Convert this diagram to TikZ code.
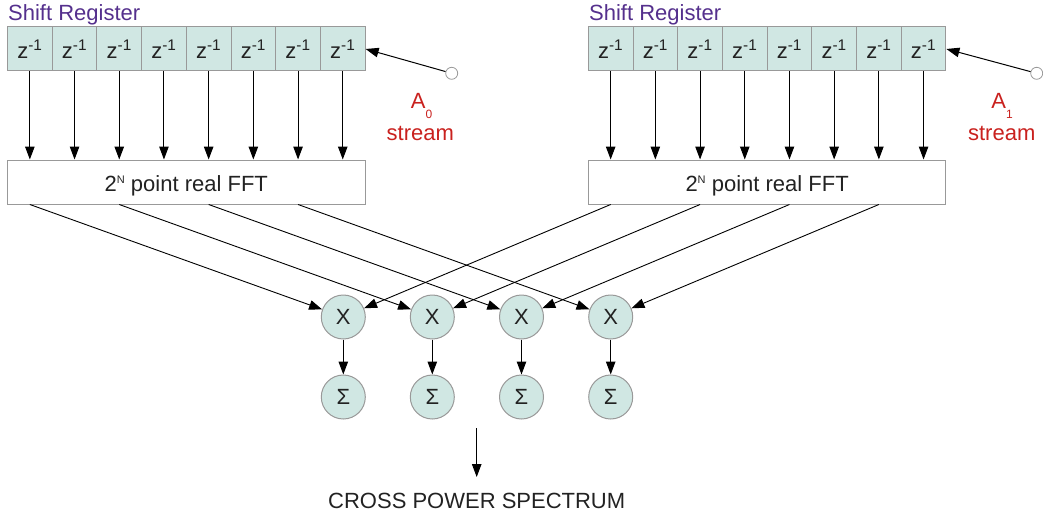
\documentclass[tikz,border=0pt]{standalone}
\usepackage{fontspec}
\setmainfont{Liberation Sans}
\usetikzlibrary{arrows.meta}
\definecolor{cellfill}{HTML}{D0E7E3}
\definecolor{edgegray}{HTML}{999999}
\definecolor{regpurple}{HTML}{55308D}
\definecolor{streamred}{HTML}{C9211E}
\definecolor{txt}{HTML}{222222}
\newcommand{\smallsup}[1]{\raisebox{7.8pt}{\fontsize{11}{11}\selectfont #1}}
\newcommand{\smallsub}[1]{\raisebox{-10pt}{\fontsize{12}{12}\selectfont #1}}
\begin{document}
\begin{tikzpicture}[x=1pt,y=-1pt,
  every node/.style={font=\fontsize{22}{26}\selectfont, text=txt},
  cell/.style={draw=edgegray, fill=cellfill, line width=1pt, minimum width=44.7pt, minimum height=44pt, inner sep=0pt},
  fftbox/.style={draw=edgegray, fill=white, line width=1pt, minimum width=357.6pt, minimum height=44pt, inner sep=0pt},
  op/.style={circle, draw=edgegray, fill=cellfill, line width=1pt, minimum size=44pt, inner sep=0pt},
  port/.style={circle, draw=edgegray, fill=white, line width=0.8pt, minimum size=12pt, inner sep=0pt},
  arr/.style={draw=black, line width=1pt, -{Triangle[length=13pt,width=9.5pt]}},
  conn/.style={draw=black, line width=0.9pt, -{Triangle[length=13pt,width=9.5pt]}},
  title/.style={text=regpurple, anchor=base west, inner sep=0pt},
  stream/.style={text=streamred, anchor=base, inner sep=0pt},
  lbl/.style={anchor=base, inner sep=0pt},
]
\useasboundingbox (0,0) rectangle (1043,516);

% titles
\node[title] (srL) at (8,20.7) {Shift Register};
\node[title] (srR) at (589,20.7) {Shift Register};

% shift register cells
\foreach \i in {1,...,8} {
  \node[cell] (L\i) at ({7.5+44.7*(\i-0.5)},49) {z\textsuperscript{-1}};
  \node[cell] (R\i) at ({588.3+44.7*(\i-0.5)},49) {z\textsuperscript{-1}};
}

% FFT boxes
\node[fftbox] (fftL) at (186.3,182) {};
\node[fftbox] (fftR) at (767.1,182) {};
\node[lbl] (fftLt) at (186.3,191.7) {2\smallsup{N} point real FFT};
\node[lbl] (fftRt) at (767.1,191.7) {2\smallsup{N} point real FFT};

% cell -> FFT arrows
\foreach \i in {1,...,8} {
  \draw[arr] (L\i.south) -- (L\i.south |- fftL.north);
  \draw[arr] (R\i.south) -- (R\i.south |- fftR.north);
}

% input ports and streams
\node[port] (inL) at (451.7,73.3) {};
\node[port] (inR) at (1036.7,73.3) {};
\draw[arr] (inL) -- (L8.east);
\draw[arr] (inR) -- (R8.east);
\node[stream] (a0) at (421.5,108.3) {A\smallsub{0}};
\node[stream] (st0) at (420.3,140) {stream};
\node[stream] (a1) at (1002,108.3) {A\smallsub{1}};
\node[stream] (st1) at (1001.7,140) {stream};

% multipliers and accumulators
\foreach \i/\x in {1/343.3,2/432.3,3/521.5,4/610.7} {
  \node[op] (m\i) at (\x,317) {X};
  \node[op] (s\i) at (\x,397) {Σ};
  \draw[arr] (m\i) -- (s\i);
}

% FFT outputs -> multipliers
\foreach \c/\m in {1/1,3/2,5/3,7/4} {
  \draw[conn] (L\c.south |- fftL.south) -- (m\m);
  \draw[conn] (R\c.south |- fftR.south) -- (m\m);
}

% output
\coordinate (outS) at (476.7,428.3);
\coordinate (outE) at (476.7,477);
\draw[arr] (outS) -- (outE);
\node[lbl] (cps) at (476.7,508.3) {CROSS POWER SPECTRUM};
\end{tikzpicture}
\end{document}
